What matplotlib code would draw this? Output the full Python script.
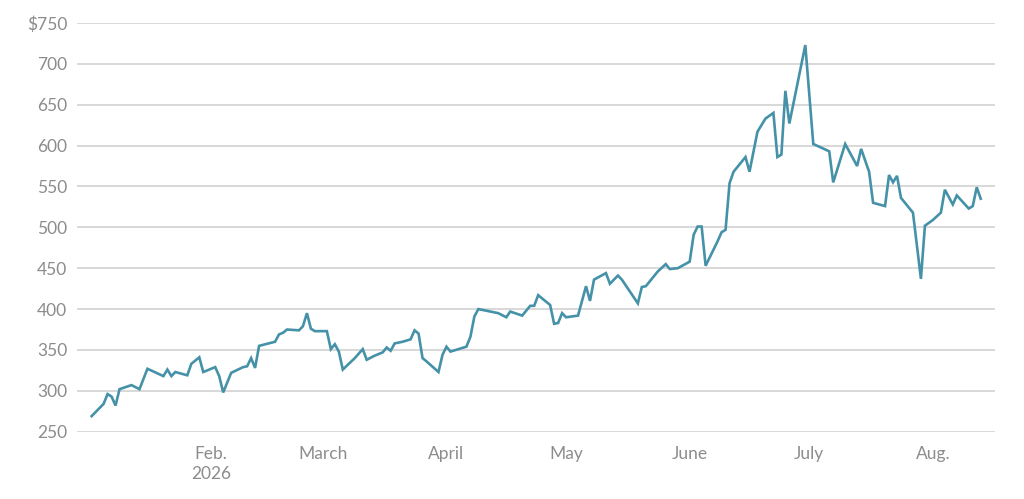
import matplotlib
matplotlib.use("Agg")
import matplotlib.pyplot as plt
import matplotlib.dates as mdates
import pandas as pd

dates = [
    "2026-01-02", "2026-01-05", "2026-01-06", "2026-01-07", "2026-01-08", "2026-01-09",
    "2026-01-12", "2026-01-14", "2026-01-16", "2026-01-20", "2026-01-21", "2026-01-22",
    "2026-01-23", "2026-01-26", "2026-01-27", "2026-01-29", "2026-01-30",
    "2026-02-02", "2026-02-03", "2026-02-04", "2026-02-06", "2026-02-09", "2026-02-10",
    "2026-02-11", "2026-02-12", "2026-02-13", "2026-02-17", "2026-02-18", "2026-02-19",
    "2026-02-20", "2026-02-23", "2026-02-24", "2026-02-25", "2026-02-26", "2026-02-27",
    "2026-03-02", "2026-03-03", "2026-03-04", "2026-03-05", "2026-03-06", "2026-03-09",
    "2026-03-11", "2026-03-12", "2026-03-14", "2026-03-16", "2026-03-17", "2026-03-18",
    "2026-03-19", "2026-03-21", "2026-03-23", "2026-03-24", "2026-03-25", "2026-03-26",
    "2026-03-27", "2026-03-30", "2026-03-31",
    "2026-04-01", "2026-04-02", "2026-04-06", "2026-04-07", "2026-04-08", "2026-04-09",
    "2026-04-12", "2026-04-14", "2026-04-16", "2026-04-17", "2026-04-20", "2026-04-22",
    "2026-04-23", "2026-04-24", "2026-04-27", "2026-04-28", "2026-04-29", "2026-04-30",
    "2026-05-01", "2026-05-04", "2026-05-06", "2026-05-07", "2026-05-08", "2026-05-11",
    "2026-05-12", "2026-05-14", "2026-05-15", "2026-05-19", "2026-05-20", "2026-05-21",
    "2026-05-24", "2026-05-26", "2026-05-27", "2026-05-29",
    "2026-06-01", "2026-06-02", "2026-06-03", "2026-06-04", "2026-06-05", "2026-06-08",
    "2026-06-09", "2026-06-10", "2026-06-11", "2026-06-12", "2026-06-15", "2026-06-16",
    "2026-06-18", "2026-06-20", "2026-06-22", "2026-06-23", "2026-06-24", "2026-06-25",
    "2026-06-26", "2026-06-30",
    "2026-07-02", "2026-07-06", "2026-07-07", "2026-07-10", "2026-07-13", "2026-07-14",
    "2026-07-16", "2026-07-17", "2026-07-20", "2026-07-21", "2026-07-22", "2026-07-23",
    "2026-07-24", "2026-07-27", "2026-07-29", "2026-07-30",
    "2026-08-01", "2026-08-03", "2026-08-04", "2026-08-06", "2026-08-07", "2026-08-10",
    "2026-08-11", "2026-08-12", "2026-08-13",
]

prices = [
    269, 284, 296, 293, 282, 302,
    307, 302, 327, 318, 326, 318,
    323, 319, 333, 341, 323,
    329, 318, 298, 322, 329, 330,
    340, 328, 355, 360, 369, 371,
    375, 374, 379, 395, 376, 373,
    373, 351, 357, 348, 326, 340,
    351, 338, 343, 347, 353, 349,
    358, 360, 363, 374, 370, 340,
    336, 323, 344,
    354, 348, 354, 366, 391, 400,
    397, 395, 390, 397, 392, 404,
    404, 417, 405, 382, 383, 395,
    390, 392, 428, 410, 436, 444,
    431, 441, 436, 407, 427, 428,
    446, 455, 449, 450,
    458, 491, 501, 501, 453, 483,
    494, 497, 554, 568, 586, 568,
    617, 633, 640, 586, 589, 667,
    627, 723,
    602, 593, 555, 602, 575, 596,
    568, 530, 526, 564, 555, 563,
    536, 518, 437, 502,
    509, 518, 546, 528, 539, 523,
    526, 549, 535,
]

y_ticks = [250, 300, 350, 400, 450, 500, 550, 600, 650, 700, 750]
y_labels = ["250", "300", "350", "400", "450", "500", "550", "600", "650", "700", "$750"]
x_tick_dates = ["2026-02-01", "2026-03-01", "2026-04-01", "2026-05-01",
                "2026-06-01", "2026-07-01", "2026-08-01"]
x_labels = ["Feb.\n2026", "March", "April", "May", "June", "July", "Aug."]

plt.rcParams["font.family"] = ["Lato", "DejaVu Sans"]

fig = plt.figure(figsize=(10.24, 4.99), dpi=100)
ax = fig.add_axes([0.0752, 0.1349, 0.8965, 0.819])

x = pd.to_datetime(dates)
ax.plot(x, prices, color="#4592a8", lw=1.9, solid_joinstyle="miter", zorder=3)

ax.set_ylim(250, 750)
ax.set_xlim(pd.Timestamp("2025-12-29 08:00"), pd.Timestamp("2026-08-16 14:00"))

ax.set_yticks(y_ticks)
ax.set_yticklabels(y_labels)
ax.set_xticks(pd.to_datetime(x_tick_dates))
ax.set_xticklabels(x_labels, linespacing=1.35)

for s in ax.spines.values():
    s.set_visible(False)

ax.yaxis.grid(True, color="#d6d6d6", lw=1.3)
ax.set_axisbelow(True)
ax.tick_params(axis="both", length=0, colors="#8c8c8c", labelsize=12.5)
ax.tick_params(axis="y", pad=7)
ax.tick_params(axis="x", pad=10)
for lbl in ax.get_xticklabels():
    lbl.set_verticalalignment("top")
    lbl.set_horizontalalignment("center")

fig.savefig("out.png", dpi=100)
